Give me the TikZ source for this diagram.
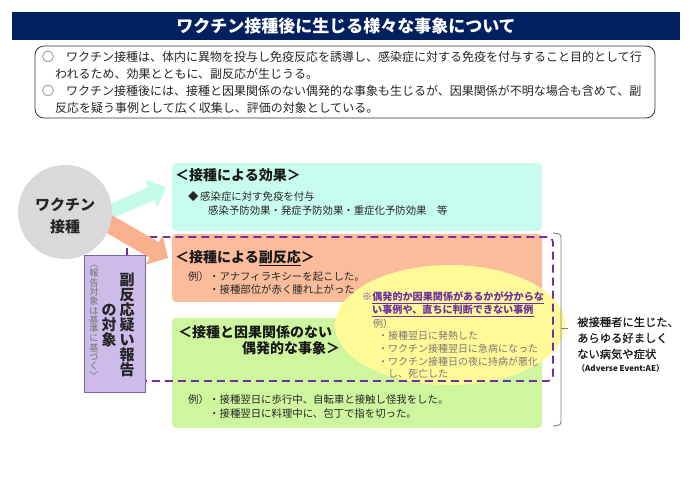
\documentclass[tikz,border=0pt]{standalone}
\usepackage{fontspec}
\setmainfont{Noto Sans CJK JP}
\newfontfamily\medfont{Noto Sans CJK JP}[FakeBold=0.5]
\definecolor{navy}{RGB}{0,32,96}
\definecolor{cyanbox}{RGB}{200,252,238}
\definecolor{cyanarrow}{RGB}{196,250,234}
\definecolor{salmonbox}{RGB}{251,188,156}
\definecolor{salmonarrow}{RGB}{249,176,140}
\definecolor{greenbox}{RGB}{206,246,158}
\definecolor{ellyellow}{RGB}{255,250,152}
\definecolor{purp}{RGB}{112,48,160}
\definecolor{lavender}{RGB}{205,188,233}
\definecolor{lavborder}{RGB}{128,100,160}
\definecolor{circgray}{RGB}{217,217,217}
\definecolor{ellgray}{RGB}{128,118,118}
\definecolor{brgray}{RGB}{128,128,128}
\tikzset{
  titletext/.style={font=\bfseries\fontsize{17}{20}\selectfont, text=white, inner sep=0},
  bodytxt/.style={font=\fontsize{12}{14}\selectfont, anchor=west, inner sep=0, text=black!85},
  boxtitle/.style={font=\bfseries\fontsize{14}{17}\selectfont, anchor=west, inner sep=0, text=black!90},
  extxt/.style={font=\fontsize{10.4}{12}\selectfont, anchor=west, inner sep=0, text=black!85},
  ellhead/.style={font=\bfseries\fontsize{10.1}{12}\selectfont, anchor=west, inner sep=0, text=purp},
  elltxt/.style={font=\fontsize{10}{12}\selectfont, anchor=west, inner sep=0, text=ellgray},
  vbig/.style={font=\bfseries\fontsize{15}{15}\selectfont, align=center, inner sep=0, text=black!85},
  vsmall/.style={font=\fontsize{9.2}{9.3}\selectfont, align=center, inner sep=0, text=black!55},
  aetxt/.style={font=\medfont\fontsize{11.3}{14}\selectfont, anchor=west, inner sep=0, text=black!90},
  purpdash/.style={draw=purp, line width=1.8pt, dash pattern=on 8pt off 5pt, rounded corners=5pt},
}
\begin{document}
\begin{tikzpicture}[x=1pt,y=-1pt]
\useasboundingbox (0,0) rectangle (690,488);
\fill[white] (0,0) rectangle (690,488);
% title bar
\fill[navy] (12,12) rectangle (680,40);
\node[titletext] (title) at (346,26) {ワクチン接種後に生じる様々な事象について};
% intro box
\draw[black!80, line width=0.8pt, rounded corners=9pt] (35,46) rectangle (655,118);
\node[bodytxt] (c1) at (42,57) {○};
\node[bodytxt] (l1) at (66,57) {ワクチン接種は、体内に異物を投与し免疫反応を誘導し、感染症に対する免疫を付与すること目的として行};
\node[bodytxt] (l2) at (55,74) {われるため、効果とともに、副反応が生じうる。};
\node[bodytxt] (c2) at (42,91) {○};
\node[bodytxt] (l3) at (66,91) {ワクチン接種後には、接種と因果関係のない偶発的な事象も生じるが、因果関係が不明な場合も含めて、副};
\node[bodytxt] (l4) at (55,108) {反応を疑う事例として広く収集し、評価の対象としている。};
% boxes
\fill[cyanbox, rounded corners=4pt] (172,163) rectangle (542,231);
\fill[salmonbox, rounded corners=4pt] (172,234) rectangle (542,302);
\fill[greenbox, rounded corners=4pt] (172,318) rectangle (542,428);
% ellipse
\fill[ellyellow] (450,325) ellipse [x radius=115pt, y radius=60pt];
% dashed frame
\draw[purpdash] (127,256) -- (127,237) -- (553,237) -- (553,381) -- (146,381);
% arrows
\fill[cyanarrow] (102.1,207.6) -- (148.5,187.1) -- (145.3,179.8) -- (166,187) -- (157.5,207.2) -- (154.3,199.9) -- (107.9,220.4) -- cycle;
\fill[salmonarrow] (108.5,213.2) -- (158.7,242.2) -- (162.7,235.3) -- (168,258) -- (145.7,264.7) -- (149.7,257.8) -- (99.5,228.8) -- cycle;
% circle
\node[circle, fill=circgray, minimum size=94pt, inner sep=0] (vac) at (65,212) {};
\node[font=\bfseries\fontsize{15}{22}\selectfont, align=center, text=black!85, inner sep=0] (vactxt) at (65,216) {ワクチン\\接種};
% purple box
\draw[fill=lavender, draw=lavborder, line width=0.8pt] (84,255) rectangle (145,392);
\node[vbig] (vb1) at (127,325) {副\\反\\応\\疑\\い\\報\\告};
\node[vbig] (vb2) at (109,326) {の\\対\\象};
\node[vsmall] (vs) at (94,322) {︿\\報\\告\\対\\象\\は\\基\\準\\に\\基\\づ\\く\\﹀};
% box texts
\node[boxtitle] (t1) at (175,175) {＜接種による効果＞};
\node[extxt] (d1) at (188,197) {◆};
\node[extxt] (e1) at (200,197) {感染症に対す免疫を付与};
\node[extxt] (e2) at (208,211) {感染予防効果・発症予防効果・重症化予防効果　等};
\node[boxtitle] (t2) at (175,258) {＜接種による\underline{副反応}＞};
\node[extxt] (r0) at (188,277) {例）};
\node[extxt] (r1) at (209,277) {・アナフィラキシーを起こした。};
\node[extxt] (r2) at (209,290) {・接種部位が赤く腫れ上がった};
\node[boxtitle] (t3) at (178,332) {＜接種と因果関係のない};
\node[boxtitle] (t3b) at (242,348) {偶発的な事象＞};
\node[extxt] (g0) at (188,400) {例）};
\node[extxt] (g1) at (209,400) {・接種翌日に歩行中、自転車と接触し怪我をした。};
\node[extxt] (g2) at (209,414) {・接種翌日に料理中に、包丁で指を切った。};
% ellipse texts
\node[ellhead] (h1) at (362,298) {※\underline{偶発的か因果関係があるかが分からな}};
\node[ellhead] (h2) at (372,311) {\underline{い事例や、直ちに判断できない事例}};
\node[elltxt] (y0) at (373,324) {例）};
\node[elltxt] (y1) at (378,336) {・接種翌日に発熱した};
\node[elltxt] (y2) at (378,349) {・ワクチン接種翌日に急病になった};
\node[elltxt] (y3) at (378,362) {・ワクチン接種日の夜に持病が悪化};
\node[elltxt] (y4) at (388,374) {し、死亡した};
% right bracket
\coordinate (bt) at (553,233);
\coordinate (bb) at (553,426);
\coordinate (bm) at (561,328);
\coordinate (bmr) at (568,328);
\draw[brgray, line width=0.9pt, rounded corners=3pt] (bt) -- (561,234) -- (561,425) -- (bb);
\draw[brgray, line width=0.9pt] (bm) -- (bmr);
% right text
\node[aetxt] (a1) at (577,322) {被接種者に生じた、};
\node[aetxt] (a2) at (577,338) {あらゆる好ましく};
\node[aetxt] (a3) at (577,354) {ない病気や症状};
\node[font=\bfseries\fontsize{8}{10}\selectfont, anchor=west, inner sep=0, text=black!90] (a4) at (577,368) {（Adverse Event:AE）};
\end{tikzpicture}
\end{document}
